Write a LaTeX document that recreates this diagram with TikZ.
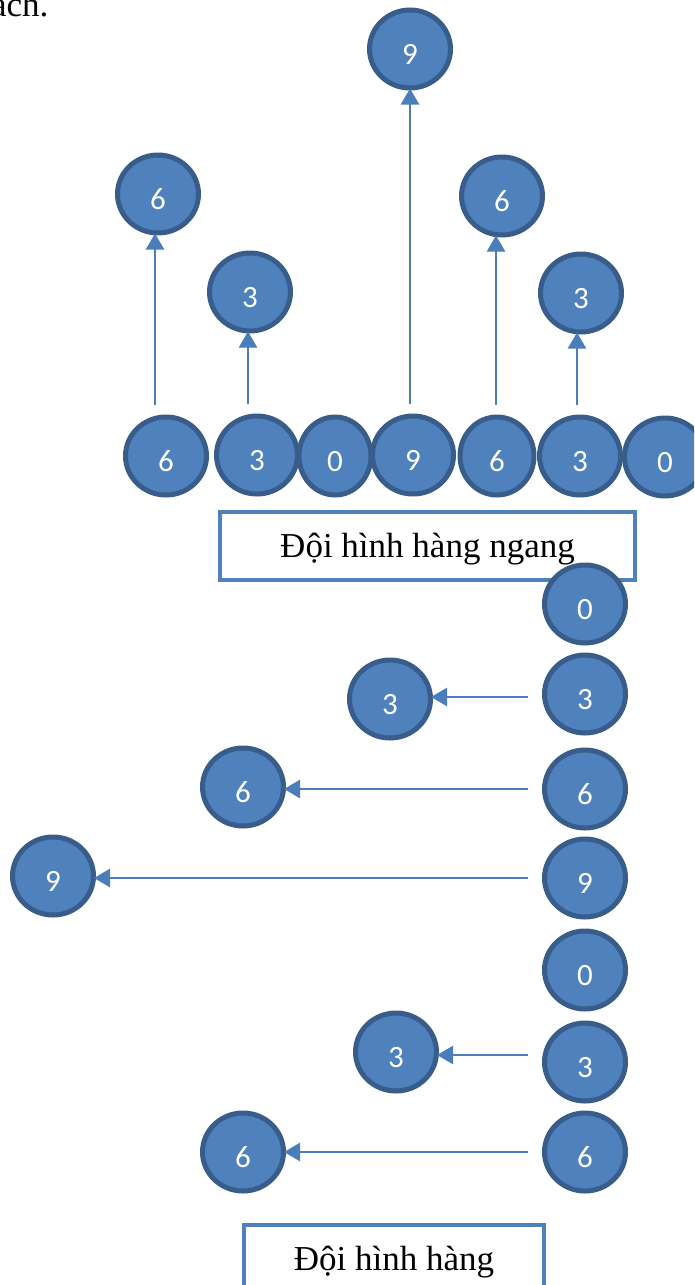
\documentclass[tikz,border=0pt]{standalone}
\usepackage{fontspec}
\setmainfont{Liberation Serif}
\newfontfamily\calibri{Carlito}
\usetikzlibrary{arrows.meta,shapes.geometric}
\definecolor{ballfill}{HTML}{4F81BD}
\definecolor{balldraw}{HTML}{385D8A}
\definecolor{arrline}{HTML}{4A7EBB}

\begin{document}
\begin{tikzpicture}[x=1pt,y=-1pt,
	ball/.style={ellipse, draw=balldraw, fill=ballfill, line width=5pt, minimum width=81pt, minimum height=78pt, inner sep=0pt, text=white, font=\calibri\fontsize{31}{37}\selectfont, text height=30pt, text depth=0pt},
	frame/.style={rectangle, draw=ballfill, line width=4pt, minimum height=68pt, font=\fontsize{35}{42}\selectfont, text height=26pt, text depth=4pt},
	arr/.style={draw=arrline, line width=2.5pt, shorten >=-2pt, -{Triangle[length=16pt,width=18pt]}}]
				\useasboundingbox (0,0) rectangle (694,1285);
				\clip (0,0) rectangle (694,1285);

				\node[anchor=base east, font=\fontsize{35}{42}\selectfont] (tail) at (52,16) {ách.};

				% the two captions
				\node[frame, minimum width=415pt] (ngang) at (427.5,546) {Đội hình hàng ngang};
				\node[frame, minimum width=300pt] (doc)   at (394,1259)  {Đội hình hàng};

				% row
				\node[ball] (h1) at (166,456) {6};
				\node[ball] (h2) at (257,455) {3};
				\node[ball, minimum width=72pt] (h3) at (335,456) {0};
				\node[ball] (h4) at (413,455) {9};
				\node[ball, minimum width=74pt] (h5) at (497,456) {6};
				\node[ball] (h6) at (580,456) {3};
				\node[ball] (h7) at (665,457) {0};

				% moved up
				\node[ball] (u9)  at (410,49)  {9};
				\node[ball] (u6a) at (158,194) {6};
				\node[ball] (u3a) at (250,292) {3};
				\node[ball] (u6b) at (502,196) {6};
				\node[ball] (u3b) at (581,293) {3};

				% column
				\node[ball] (c1) at (585,604)  {0};
				\node[ball] (c2) at (585,694)  {3};
				\node[ball] (c3) at (585,789)  {6};
				\node[ball] (c4) at (585,878)  {9};
				\node[ball] (c5) at (585,970)  {0};
				\node[ball] (c6) at (585,1062) {3};
				\node[ball] (c7) at (585,1152) {6};

				% moved left
				\node[ball] (l3a) at (390,699)  {3};
				\node[ball] (l6a) at (243,787)  {6};
				\node[ball] (l9)  at (53,876)   {9};
				\node[ball] (l3b) at (396,1052) {3};
				\node[ball] (l6b) at (243,1152) {6};

				\path ([xshift=-11pt]h1.north) edge[arr, shorten <=10pt] ([xshift=-11pt]h1.north |- u6a.south)
					  ([xshift=-9pt]h2.north)  edge[arr, shorten <=10pt] ([xshift=-9pt]h2.north |- u3a.south)
					  ([xshift=-3pt]h4.north)  edge[arr, shorten <=10pt] ([xshift=-3pt]h4.north |- u9.south)
					  ([xshift=-1pt]h5.north)  edge[arr, shorten <=10pt] ([xshift=-1pt]h5.north |- u6b.south)
					  ([xshift=-3pt]h6.north)  edge[arr, shorten <=10pt] ([xshift=-3pt]h6.north |- u3b.south);

				\path ([yshift=-3pt]c2.west) edge[arr, shorten <=14pt] ([yshift=-3pt]c2.west -| l3a.east)
					  (c3.west) edge[arr, shorten <=14pt] (c3.west -| l6a.east)
					  (c4.west) edge[arr, shorten <=14pt] (c4.west -| l9.east)
					  ([yshift=7pt]c6.west) edge[arr, shorten <=14pt] ([yshift=7pt]c6.west -| l3b.east)
					  (c7.west) edge[arr, shorten <=14pt] (c7.west -| l6b.east);

			\end{tikzpicture}
\end{document}
